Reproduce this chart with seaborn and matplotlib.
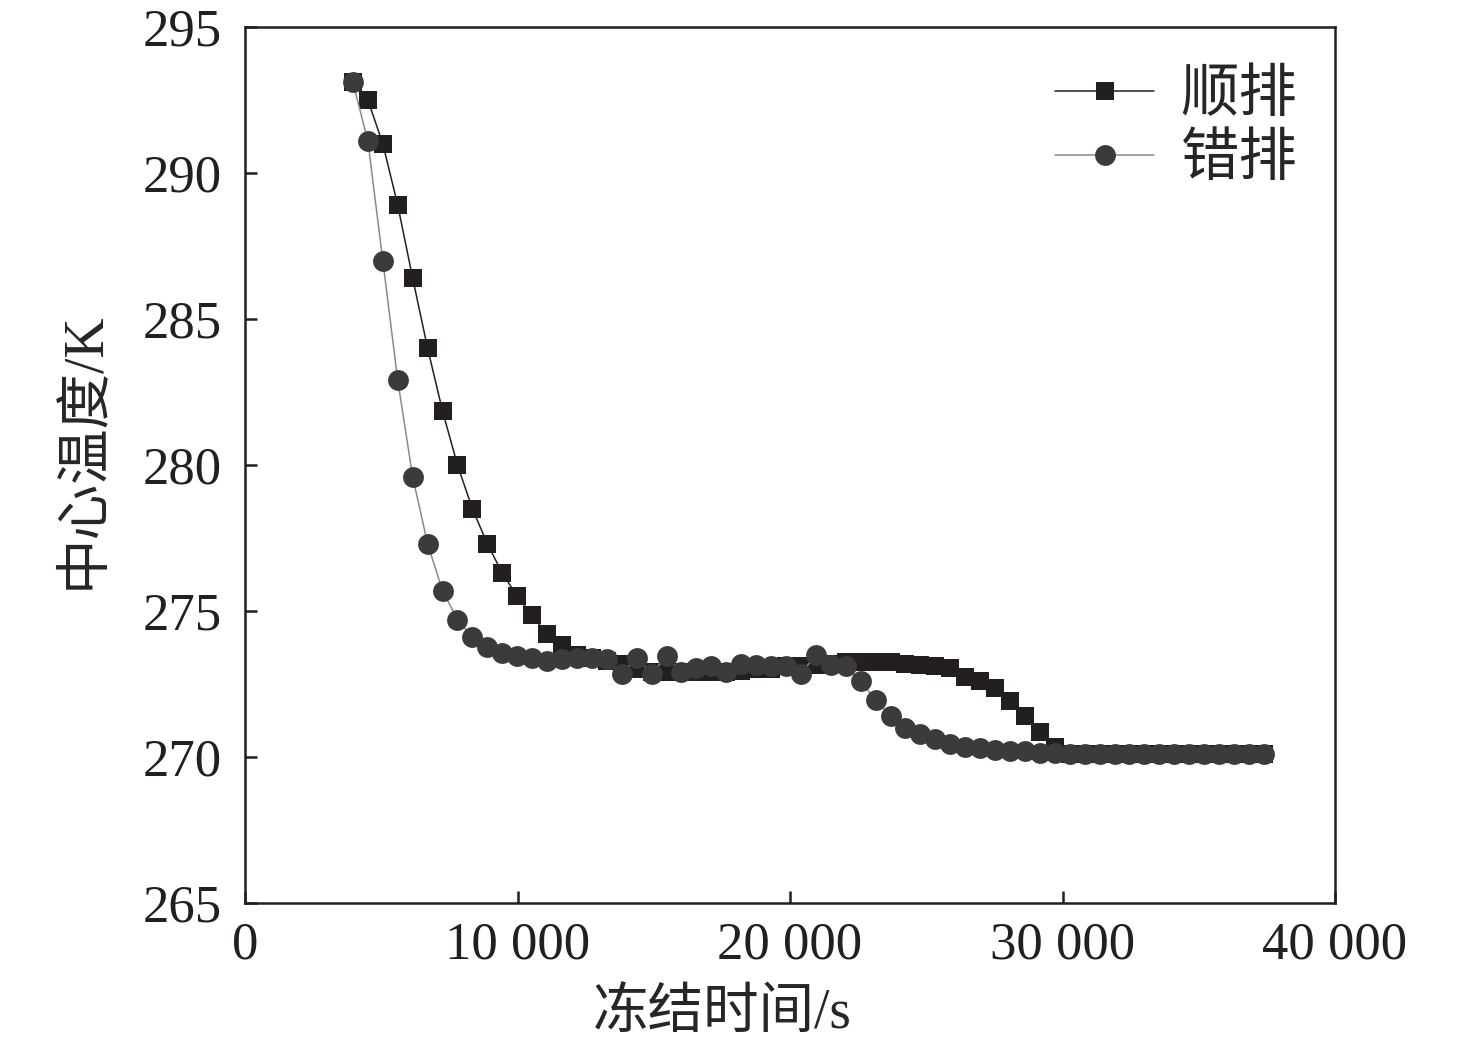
import matplotlib
matplotlib.use("Agg")
import matplotlib.pyplot as plt
import numpy as np
import pandas as pd
import seaborn as sns

# freezing time (s), shared by both arrangements
time_s = [
    3960, 4508, 5056, 5604, 6152, 6700, 7248, 7796, 8344, 8892,
    9440, 9988, 10536, 11084, 11632, 12180, 12728, 13276, 13824, 14372,
    14920, 15468, 16016, 16564, 17112, 17660, 18208, 18756, 19304, 19852,
    20400, 20948, 21496, 22044, 22592, 23140, 23688, 24236, 24784, 25332,
    25880, 26428, 26976, 27524, 28072, 28620, 29168, 29716, 30264, 30812,
    31360, 31908, 32456, 33004, 33552, 34100, 34648, 35196, 35744, 36292,
    36840, 37388,
]

# center temperature (K), in-line arrangement
temp_inline = [
    293.1, 292.5, 291.0, 288.9, 286.4, 284.0, 281.85, 280.0, 278.5, 277.3,
    276.3, 275.5, 274.85, 274.2, 273.85, 273.5, 273.4, 273.3, 273.2, 273.0,
    272.9, 272.9, 272.9, 272.9, 272.9, 272.9, 272.95, 273.0, 273.0, 273.1,
    273.1, 273.15, 273.2, 273.25, 273.25, 273.25, 273.25, 273.2, 273.15, 273.1,
    273.05, 272.75, 272.6, 272.35, 271.9, 271.4, 270.85, 270.35, 270.1, 270.1,
    270.1, 270.1, 270.1, 270.1, 270.1, 270.1, 270.1, 270.1, 270.1, 270.1,
    270.1, 270.1,
]

# center temperature (K), staggered arrangement
temp_staggered = [
    293.1, 291.1, 287.0, 282.9, 279.6, 277.3, 275.7, 274.7, 274.1, 273.75,
    273.55, 273.45, 273.4, 273.3, 273.35, 273.4, 273.4, 273.35, 272.85, 273.4,
    272.85, 273.45, 272.9, 273.05, 273.1, 272.9, 273.2, 273.15, 273.1, 273.1,
    272.85, 273.5, 273.15, 273.1, 272.6, 271.95, 271.4, 271.0, 270.8, 270.6,
    270.45, 270.35, 270.3, 270.25, 270.2, 270.2, 270.15, 270.15, 270.1, 270.1,
    270.1, 270.1, 270.1, 270.1, 270.1, 270.1, 270.1, 270.1, 270.1, 270.1,
    270.1, 270.1,
]

series_names = ["顺排", "错排"]
x_ticks = [0, 10000, 20000, 30000, 40000]
x_tick_labels = ["0", "10 000", "20 000", "30 000", "40 000"]
y_ticks = [265, 270, 275, 280, 285, 290, 295]

df = pd.DataFrame({
    "time": time_s * 2,
    "temp": temp_inline + temp_staggered,
    "arrangement": [series_names[0]] * len(time_s) + [series_names[1]] * len(time_s),
})

sns.set_style("ticks")
plt.rcParams["font.family"] = ["Liberation Serif", "Noto Sans CJK SC"]
plt.rcParams["axes.linewidth"] = 1.8

fig = plt.figure(figsize=(14.76, 10.49), dpi=100)
ax = fig.add_axes([0.166, 0.1392, 0.7385, 0.8351])

sns.lineplot(
    data=df[df["arrangement"] == series_names[0]], x="time", y="temp",
    ax=ax, color="#231f20", linewidth=1.1, marker="s", markersize=13.5,
    markerfacecolor="#231f20", markeredgewidth=0, label=series_names[0],
)
sns.lineplot(
    data=df[df["arrangement"] == series_names[1]], x="time", y="temp",
    ax=ax, color="#8a8a8a", linewidth=1.1, marker="o", markersize=15,
    markerfacecolor="#3d3a3b", markeredgewidth=0, label=series_names[1],
)

ax.set_xlim(0, 40000)
ax.set_ylim(265, 295)
ax.set_xticks(x_ticks)
ax.set_xticklabels(x_tick_labels)
ax.set_yticks(y_ticks)
ax.tick_params(direction="in", length=8.6, width=1.8, labelsize=38, colors="#231f20")
ax.tick_params(axis="x", pad=13)
ax.tick_params(axis="y", pad=17)
for side in ["top", "right", "left", "bottom"]:
    ax.spines[side].set_visible(True)
    ax.spines[side].set_color("#231f20")

ax.set_xlabel("冻结时间/s", fontsize=40)
ax.set_ylabel("中心温度/K", fontsize=40)
ax.xaxis.set_label_coords(0.4376, -0.097)
ax.yaxis.set_label_coords(-0.124, 0.517)

ax.legend(
    loc="upper right", bbox_to_anchor=(1.0, 0.995), frameon=False, fontsize=42,
    handlelength=1.7, handletextpad=0.45, labelspacing=0.18, borderaxespad=0.25,
)

fig.savefig("out.png", dpi=100)
